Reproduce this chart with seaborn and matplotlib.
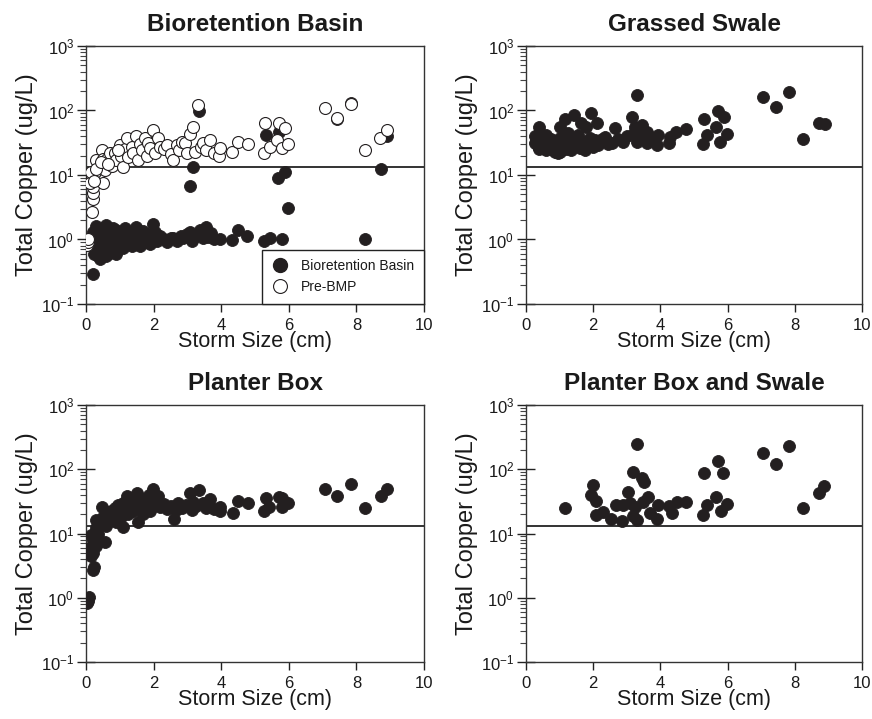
import matplotlib
matplotlib.use("Agg")
import matplotlib.pyplot as plt
from matplotlib.lines import Line2D
from matplotlib.ticker import LogLocator, FixedLocator
import seaborn as sns
import pandas as pd
import numpy as np

# ---------------- data ----------------
titles = ["Bioretention Basin", "Grassed Swale", "Planter Box", "Planter Box and Swale"]
x_label = "Storm Size (cm)"
y_label = "Total Copper (ug/L)"
legend_labels = ["Bioretention Basin", "Pre-BMP"]
x_ticks = [0, 2, 4, 6, 8, 10]
reference_level = 13.3

bb_storm = [0.22, 0.25, 0.3, 0.3, 0.35, 0.4, 0.4, 0.45, 0.5, 0.5, 0.55, 0.6, 0.6, 0.65, 0.7, 0.75,
            0.8, 0.85, 0.9, 0.95, 1.0, 1.05, 1.1, 1.15, 1.2, 1.25, 1.3, 1.35, 1.4, 1.48, 1.5, 1.55,
            1.6, 1.65, 1.7, 1.75, 1.8, 1.85, 1.9, 1.97, 2.0, 2.05, 2.1, 2.2, 2.3, 2.4, 2.5, 2.58,
            2.7, 2.8, 2.88, 3.0, 3.08, 3.15, 3.2, 3.3, 3.37, 3.45, 3.55, 3.6, 3.7, 3.8, 3.96, 4.31,
            4.5, 4.75, 5.27, 5.44, 5.79, 8.25, 0.15, 0.2, 0.35, 0.45, 0.55, 0.65, 0.7, 0.9,
            3.08, 3.18, 3.33, 5.32, 5.72, 5.67, 5.89, 5.99, 7.42, 7.83, 8.73, 8.9]
bb_cu = [0.29, 0.6, 0.75, 1.6, 1.2, 0.9, 0.5, 1.4, 0.65, 1.1, 0.8, 1.7, 0.55, 1.3, 0.95, 0.7,
         1.5, 1.1, 0.6, 0.85, 1.3, 1.0, 0.75, 1.5, 1.1, 0.9, 1.25, 0.8, 1.05, 1.58, 0.95, 1.2,
         0.8, 1.1, 1.35, 0.9, 1.2, 1.0, 0.85, 1.74, 1.1, 1.3, 0.95, 1.15, 1.0, 0.9, 1.05, 1.04,
         0.95, 1.15, 1.04, 1.2, 1.32, 0.95, 1.1, 1.2, 1.4, 1.05, 1.58, 1.1, 1.25, 1.0, 1.0, 0.98,
         1.4, 1.13, 0.96, 1.04, 1.0, 1.0, 1.0, 1.3, 0.55, 0.85, 1.55, 0.6, 1.2, 1.4,
         6.8, 13.1, 98, 41.7, 47, 8.9, 11.3, 3.04, 73, 131, 12.6, 40]

pre_storm = [0.02, 0.05, 0.07, 0.17, 0.2, 0.22, 0.22, 0.17, 0.36, 0.51, 0.27, 0.36, 0.41, 0.46,
             0.3, 0.5, 0.61, 0.55, 0.76, 0.7, 0.86, 0.9, 1.0, 1.05, 1.1, 1.15, 1.2, 1.25, 1.35,
             1.4, 1.48, 1.55, 1.6, 1.65, 1.75, 1.8, 1.84, 1.9, 1.97, 2.05, 2.14, 2.19, 2.3, 2.4,
             2.5, 2.58, 2.68, 2.75, 2.85, 2.93, 3.0, 3.08, 3.18, 3.23, 3.32, 3.4, 3.47, 3.55,
             3.67, 3.8, 3.94, 3.96, 4.31, 4.5, 4.8, 5.28, 5.3, 5.44, 5.64, 5.72, 5.79, 5.89,
             5.99, 7.07, 7.42, 7.83, 8.25, 8.7, 8.9, 0.12, 0.15, 0.25, 0.3, 0.45, 0.65, 0.95]
pre_cu = [0.82, 0.9, 1.0, 2.7, 4.3, 5.2, 6.6, 9.4, 9.4, 7.4, 11, 13.5, 15, 24,
          17, 18, 18, 12, 14, 22, 21.7, 17, 29, 20, 13.5, 25, 37, 19, 27.5,
          22, 40, 17, 30, 24, 37, 20, 31, 26, 49, 22, 37, 27.5, 25, 29,
          21, 17, 29, 24, 33, 31, 22, 43, 56, 23, 122, 27, 31, 24,
          35, 22, 20, 26, 23, 32, 30, 22, 63, 27.5, 35, 65, 26, 53,
          30, 108, 75.6, 126, 24, 38, 50, 7.5, 11, 8.0, 12.5, 16, 15, 24]

gs_storm = [0.27, 0.27, 0.3, 0.35, 0.4, 0.45, 0.5, 0.55, 0.6, 0.65, 0.7, 0.75, 0.8, 0.86, 0.9,
            0.96, 1.0, 1.01, 1.05, 1.1, 1.16, 1.2, 1.25, 1.3, 1.35, 1.4, 1.44, 1.5, 1.55, 1.6,
            1.64, 1.7, 1.75, 1.8, 1.85, 1.9, 1.93, 2.0, 2.05, 2.1, 2.15, 2.25, 2.35, 2.45, 2.55,
            2.65, 2.75, 2.9, 3.0, 3.14, 3.2, 3.24, 3.29, 3.29, 3.4, 3.44, 3.5, 3.59, 3.59, 3.7,
            3.89, 3.94, 4.27, 4.29, 4.46, 4.76, 5.26, 5.3, 5.4, 5.65, 5.72, 5.77, 5.89, 5.97,
            7.06, 7.43, 7.82, 8.25, 8.72, 8.9, 0.4, 0.6, 0.8, 1.0, 1.3, 1.6, 1.9]
gs_cu = [40, 31, 35, 28, 55, 38, 30, 26, 42, 33, 28, 36, 24, 23, 30,
         21.7, 38, 56, 27, 33, 75, 25, 45, 30, 24, 36, 85, 28, 42, 26,
         63, 33, 24, 56, 30, 38, 90, 27, 35, 63, 29, 36, 39, 30, 31,
         53, 36, 33, 40, 78, 45, 56, 172, 33, 38, 60, 45, 47, 31, 38,
         29, 41.5, 31, 39, 47, 52, 30, 75, 41, 55, 99, 32, 80, 42.5,
         164, 112, 195, 36.6, 65, 61, 25, 24, 31, 23, 26, 35, 30]

pb_storm = [0.02, 0.05, 0.1, 0.22, 0.25, 0.15, 0.22, 0.1, 0.3, 0.2, 0.15, 0.35, 0.56, 0.3, 0.3,
            0.4, 0.46, 0.5, 0.6, 0.65, 0.7, 0.75, 0.8, 0.85, 0.9, 0.95, 1.0, 1.05, 1.1, 1.1,
            1.15, 1.2, 1.25, 1.3, 1.35, 1.4, 1.45, 1.5, 1.55, 1.6, 1.65, 1.7, 1.75, 1.8, 1.85,
            1.9, 1.99, 2.0, 2.05, 2.14, 2.2, 2.3, 2.4, 2.5, 2.61, 2.65, 2.73, 2.85, 2.95, 3.08,
            3.15, 3.18, 3.25, 3.35, 3.45, 3.55, 3.67, 3.8, 3.96, 3.96, 4.34, 4.5, 4.8, 5.27,
            5.32, 5.42, 5.72, 5.79, 5.79, 5.99, 7.07, 7.44, 7.83, 8.25, 8.73, 8.9]
pb_cu = [0.82, 0.9, 1.04, 2.7, 3.0, 4.5, 5.0, 6.0, 6.5, 8.0, 9.5, 10, 7.4, 12, 16.5,
         14, 25.5, 18, 13, 20, 16, 22, 19, 25, 15, 28, 21, 18, 12.7, 30,
         24, 38, 20, 27, 33, 22, 29, 43, 15, 25, 35, 20, 30, 26, 40,
         22, 48.5, 28, 33, 38, 26, 29, 24, 27, 17, 23, 30, 25, 28, 43,
         23, 31, 27, 47, 30, 25, 34, 24, 26, 22, 20.6, 32, 30, 22.6,
         36, 26, 37, 36, 26, 30, 48.5, 39, 59, 24.6, 38, 50]

pbs_storm = [1.16, 1.98, 1.92, 2.08, 2.08, 2.3, 2.52, 2.67, 2.85, 3.05, 3.18, 3.29, 3.51, 3.44,
             2.9, 3.1, 3.24, 3.19, 3.31, 3.47, 3.64, 3.69, 3.89, 3.94, 4.34, 4.26, 4.48, 4.76,
             5.26, 5.4, 5.3, 5.72, 5.87, 5.65, 5.79, 5.97, 7.06, 7.43, 7.83, 8.25, 8.72, 8.88]
pbs_cu = [25, 57, 40, 32, 19.4, 21.8, 16.8, 27.6, 15.8, 44.7, 91, 246, 64, 72,
          27.6, 30, 26, 18.7, 16.2, 31, 36.5, 20.5, 16.8, 27.6, 20.5, 26.6, 31, 30.5,
          19.4, 27.6, 88, 135, 86, 36.5, 22.4, 28.6, 176, 119, 229, 24.6, 43, 55]

# ---------------- style ----------------
sns.set_theme(style="ticks")
plt.rcParams["font.family"] = ["Liberation Sans", "DejaVu Sans"]
plt.rcParams["mathtext.fontset"] = "custom"
plt.rcParams["mathtext.rm"] = "Liberation Sans"
plt.rcParams["mathtext.it"] = "Liberation Sans"
plt.rcParams["mathtext.default"] = "regular"
plt.rcParams["axes.unicode_minus"] = False
plt.rcParams["axes.edgecolor"] = "#222222"
plt.rcParams["text.color"] = "#1a1a1a"
plt.rcParams["axes.labelcolor"] = "#1a1a1a"
plt.rcParams["xtick.labelcolor"] = "#1a1a1a"
plt.rcParams["ytick.labelcolor"] = "#1a1a1a"

fill_col = "#231f20"
fig = plt.figure(figsize=(8.72, 7.19), dpi=100)

positions = [
    [86 / 872, 1 - 304 / 719, 338 / 872, 258 / 719],
    [526 / 872, 1 - 304 / 719, 336 / 872, 258 / 719],
    [86 / 872, 1 - 662 / 719, 338 / 872, 257 / 719],
    [526 / 872, 1 - 662 / 719, 336 / 872, 257 / 719],
]

panel_data = [
    (bb_storm, bb_cu),
    (gs_storm, gs_cu),
    (pb_storm, pb_cu),
    (pbs_storm, pbs_cu),
]

msize = 74
axes = []
for i, pos in enumerate(positions):
    ax = fig.add_axes(pos)
    axes.append(ax)
    xs, ys = panel_data[i]
    df = pd.DataFrame({"storm": xs, "cu": ys})
    sns.scatterplot(data=df, x="storm", y="cu", ax=ax, color=fill_col,
                    edgecolor=fill_col, linewidth=0.6, s=msize, zorder=3)
    if i == 0:
        dfp = pd.DataFrame({"storm": pre_storm, "cu": pre_cu})
        sns.scatterplot(data=dfp, x="storm", y="cu", ax=ax, color="white",
                        edgecolor=fill_col, linewidth=0.8, s=msize, zorder=4)
    ax.axhline(reference_level, color="#111111", lw=1.2, zorder=2)
    ax.set_yscale("log")
    ax.set_ylim(0.1, 1000)
    ax.set_xlim(0, 10)
    ax.xaxis.set_major_locator(FixedLocator(x_ticks))
    ax.yaxis.set_major_locator(LogLocator(base=10, numticks=10))
    ax.yaxis.set_minor_locator(LogLocator(base=10, subs=np.arange(2, 10), numticks=10))
    ax.tick_params(axis="y", which="major", direction="inout", length=13, width=1,
                   labelsize=12, pad=2, color="#222222")
    ax.tick_params(axis="y", which="minor", direction="out", length=4, width=0.8,
                   color="#444444")
    ax.tick_params(axis="x", which="major", direction="out", length=6, width=1,
                   labelsize=12, pad=4, color="#222222")
    ax.set_title(titles[i], fontsize=17.5, fontweight="bold", pad=11)
    ax.set_xlabel(x_label, fontsize=15.5, labelpad=-1)
    ax.set_ylabel(y_label, fontsize=17, labelpad=2)
    for sp in ax.spines.values():
        sp.set_linewidth(1.0)
        sp.set_color("#333333")

handles = [
    Line2D([], [], marker="o", linestyle="", markersize=10, markerfacecolor=fill_col,
           markeredgecolor=fill_col),
    Line2D([], [], marker="o", linestyle="", markersize=10, markerfacecolor="white",
           markeredgecolor=fill_col, markeredgewidth=0.8),
]
leg = axes[0].legend(handles, legend_labels, loc="lower right", bbox_to_anchor=(1.0, 0.0),
                     borderaxespad=0, frameon=True, fancybox=False, fontsize=10,
                     handletextpad=0.9, borderpad=0.7, labelspacing=0.5, handlelength=1.2)
leg.get_frame().set_edgecolor("#222222")
leg.get_frame().set_linewidth(1.0)
leg.get_frame().set_alpha(1)
leg.set_zorder(10)

fig.savefig("out.png", dpi=100)
